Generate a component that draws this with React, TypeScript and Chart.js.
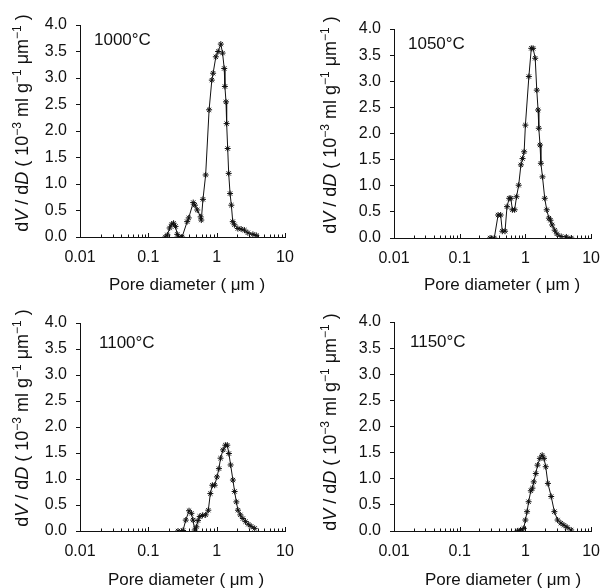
import React, { useEffect, useRef } from "react";
import { Chart, registerables } from "chart.js";

Chart.register(...registerables);

const FONT = "'Liberation Sans', Arial, Helvetica, sans-serif";
const INK = "#111111";

const X_TICKS = [0.01, 0.1, 1, 10];
const X_TICK_LABELS = ["0.01", "0.1", "1", "10"];
const Y_TICKS = [0, 0.5, 1.0, 1.5, 2.0, 2.5, 3.0, 3.5, 4.0];
const X_TITLE = "Pore diameter ( μm )";

const TITLES = ["1000°C", "1050°C", "1100°C", "1150°C"];

// 1000 °C
const DIAM_1000 = [0.177, 0.19, 0.205, 0.22, 0.234, 0.25, 0.265, 0.278, 0.312, 0.37, 0.39, 0.454, 0.48, 0.52, 0.583, 0.596, 0.63, 0.69, 0.775, 0.85, 0.887, 0.973, 1.05, 1.15, 1.22, 1.29, 1.32, 1.37, 1.40, 1.45, 1.50, 1.57, 1.64, 1.72, 1.82, 2.04, 2.28, 2.55, 2.86, 3.39, 3.8];
const DVDD_1000 = [0, 0.04, 0.17, 0.24, 0.26, 0.2, 0.05, 0, 0, 0.29, 0.36, 0.65, 0.6, 0.51, 0.38, 0.32, 0.71, 1.17, 2.4, 2.96, 3.09, 3.40, 3.50, 3.64, 3.47, 3.18, 2.84, 2.55, 2.14, 1.67, 1.2, 0.82, 0.60, 0.29, 0.23, 0.16, 0.15, 0.13, 0.08, 0.05, 0.03];

// 1050 °C
const DIAM_1050 = [0.29, 0.336, 0.384, 0.42, 0.445, 0.49, 0.525, 0.567, 0.6, 0.634, 0.686, 0.733, 0.79, 0.855, 0.905, 0.957, 1.0, 1.13, 1.23, 1.31, 1.41, 1.49, 1.56, 1.60, 1.67, 1.72, 1.82, 1.97, 2.11, 2.28, 2.41, 2.55, 2.79, 3.01, 3.5, 4.2, 5.0];
const DVDD_1050 = [0, 0, 0.44, 0.44, 0.13, 0.13, 0.6, 0.76, 0.76, 0.54, 0.54, 0.79, 1.01, 1.40, 1.52, 1.65, 2.16, 3.09, 3.63, 3.63, 3.44, 2.83, 2.45, 2.10, 1.78, 1.43, 1.17, 0.76, 0.54, 0.38, 0.34, 0.25, 0.15, 0.08, 0.03, 0.02, 0.0];

// 1100 °C
const DIAM_1100 = [0.272, 0.322, 0.353, 0.394, 0.427, 0.451, 0.477, 0.505, 0.533, 0.565, 0.618, 0.69, 0.755, 0.808, 0.865, 0.935, 1.01, 1.08, 1.14, 1.24, 1.34, 1.43, 1.51, 1.60, 1.73, 1.83, 1.94, 2.05, 2.22, 2.42, 2.65, 2.9, 3.2, 3.6];
const DVDD_1100 = [0, 0.01, 0.21, 0.39, 0.34, 0.21, 0.02, 0.08, 0.2, 0.28, 0.30, 0.31, 0.40, 0.72, 0.88, 0.88, 1.04, 1.20, 1.40, 1.56, 1.65, 1.65, 1.49, 1.27, 0.98, 0.76, 0.56, 0.40, 0.31, 0.24, 0.18, 0.13, 0.09, 0.05];

// 1150 °C
const DIAM_1150 = [0.755, 0.844, 0.944, 1.0, 1.06, 1.12, 1.21, 1.28, 1.34, 1.44, 1.53, 1.66, 1.80, 1.92, 2.04, 2.2, 2.47, 2.76, 3.09, 3.47, 3.87, 4.33, 4.97];
const DVDD_1150 = [0, 0.02, 0.05, 0.21, 0.37, 0.56, 0.77, 0.82, 0.94, 1.10, 1.26, 1.39, 1.45, 1.39, 1.23, 0.91, 0.66, 0.37, 0.21, 0.15, 0.11, 0.07, 0.02];

type Layout = {
  left: number;
  top: number;
  width: number;
  height: number;
  area: { l: number; r: number; t: number; b: number };
  title: { x: number; y: number };
  xTitle: { x: number; y: number };
  yTitle: { x: number; y: number };
};

const LAYOUTS: Layout[] = [
  { left: 0, top: 0, width: 305, height: 298, area: { l: 80, r: 285, t: 25, b: 237 }, title: { x: 94, y: 45 }, xTitle: { x: 187, y: 290 }, yTitle: { x: 28, y: 123 } },
  { left: 305, top: 0, width: 306, height: 298, area: { l: 89, r: 297, t: 29, b: 238 }, title: { x: 103, y: 49 }, xTitle: { x: 197, y: 290 }, yTitle: { x: 31, y: 125 } },
  { left: 0, top: 294, width: 305, height: 294, area: { l: 80, r: 285, t: 29, b: 237 }, title: { x: 99, y: 54 }, xTitle: { x: 186, y: 291 }, yTitle: { x: 28, y: 124 } },
  { left: 305, top: 294, width: 306, height: 294, area: { l: 89, r: 293, t: 28, b: 237 }, title: { x: 105, y: 53 }, xTitle: { x: 198, y: 291 }, yTitle: { x: 31, y: 128 } },
];

type Seg = { t: string; italic?: boolean; sup?: boolean };
const Y_TITLE: Seg[] = [
  { t: "d" },
  { t: "V", italic: true },
  { t: " / d" },
  { t: "D", italic: true },
  { t: " ( 10" },
  { t: "−3", sup: true },
  { t: " ml g" },
  { t: "−1", sup: true },
  { t: " μm" },
  { t: "−1", sup: true },
  { t: " )" },
];

function Panel({ xs, ys, title, L }: { xs: number[]; ys: number[]; title: string; L: Layout }) {
  const ref = useRef<HTMLCanvasElement | null>(null);
  useEffect(() => {
    if (!ref.current) return;
    const deco = {
      id: "deco",
      afterDraw(chart: any) {
        const ctx: CanvasRenderingContext2D = chart.ctx;
        const xsc = chart.scales.x;
        const ca = chart.chartArea;
        ctx.save();
        ctx.strokeStyle = INK;
        ctx.lineWidth = 1;
        for (let e = -2; e <= 0; e++) {
          for (let m = 1; m <= 10; m++) {
            const v = m * Math.pow(10, e);
            const px = Math.round(xsc.getPixelForValue(v)) + 0.5;
            const len = m === 1 || m === 10 ? 4 : 2.5;
            ctx.beginPath();
            ctx.moveTo(px, ca.bottom);
            ctx.lineTo(px, ca.bottom - len);
            ctx.stroke();
          }
        }
        ctx.fillStyle = INK;
        ctx.textBaseline = "alphabetic";
        ctx.font = `17px ${FONT}`;
        ctx.textAlign = "left";
        ctx.fillText(title, L.title.x, L.title.y);
        ctx.textAlign = "center";
        ctx.fillText(X_TITLE, L.xTitle.x, L.xTitle.y);

        // rotated y title
        const fontFor = (s: Seg) => `${s.italic ? "italic " : ""}${s.sup ? 12 : 18}px ${FONT}`;
        ctx.textAlign = "left";
        let total = 0;
        for (const s of Y_TITLE) {
          ctx.font = fontFor(s);
          total += ctx.measureText(s.t).width;
        }
        ctx.translate(L.yTitle.x, L.yTitle.y);
        ctx.rotate(-Math.PI / 2);
        let cx = -total / 2;
        for (const s of Y_TITLE) {
          ctx.font = fontFor(s);
          ctx.fillText(s.t, cx, s.sup ? -7 : 0);
          cx += ctx.measureText(s.t).width;
        }
        ctx.restore();
      },
    };
    const chart = new Chart(ref.current, {
      type: "scatter",
      data: {
        datasets: [
          {
            data: xs.map((x, i) => ({ x, y: ys[i] })),
            showLine: true,
            borderColor: INK,
            borderWidth: 1,
            pointStyle: "star",
            pointRadius: 3,
            pointBorderWidth: 1,
            pointBorderColor: INK,
            pointBackgroundColor: INK,
          } as any,
        ],
      },
      options: {
        responsive: false,
        maintainAspectRatio: false,
        animation: false,
        layout: { padding: { left: 0, top: L.area.t, right: L.width - L.area.r, bottom: 0 } },
        plugins: { legend: { display: false }, tooltip: { enabled: false } },
        scales: {
          x: {
            type: "logarithmic",
            min: 0.01,
            max: 10,
            afterBuildTicks: (s: any) => {
              s.ticks = X_TICKS.map((v) => ({ value: v }));
            },
            afterFit: (s: any) => {
              s.height = L.height - L.area.b;
            },
            ticks: {
              autoSkip: false,
              maxRotation: 0,
              padding: 11,
              color: INK,
              font: { size: 16, family: FONT },
              callback: (v: any) => {
                const i = X_TICKS.findIndex((t) => Math.abs(t - Number(v)) < 1e-9);
                return i >= 0 ? X_TICK_LABELS[i] : "";
              },
            },
            grid: { display: false, drawTicks: false },
            border: { display: true, color: INK, width: 1 },
          },
          y: {
            type: "linear",
            min: 0,
            max: 4,
            afterBuildTicks: (s: any) => {
              s.ticks = Y_TICKS.map((v) => ({ value: v }));
            },
            afterFit: (s: any) => {
              s.width = L.area.l;
            },
            ticks: {
              padding: 9,
              color: INK,
              font: { size: 16, family: FONT },
              callback: (v: any) => Number(v).toFixed(1),
            },
            grid: { display: true, drawOnChartArea: false, drawTicks: true, tickLength: 4, color: INK },
            border: { display: true, color: INK, width: 1 },
          },
        },
      } as any,
      plugins: [deco],
    });
    return () => chart.destroy();
  }, []);
  return (
    <canvas
      ref={ref}
      width={L.width}
      height={L.height}
      style={{ position: "absolute", left: L.left, top: L.top, width: L.width, height: L.height }}
    />
  );
}

export default function App() {
  return (
    <div style={{ position: "absolute", left: 0, top: 0, width: 611, height: 588, background: "#fff", overflow: "hidden" }}>
      <Panel xs={DIAM_1000} ys={DVDD_1000} title={TITLES[0]} L={LAYOUTS[0]} />
      <Panel xs={DIAM_1050} ys={DVDD_1050} title={TITLES[1]} L={LAYOUTS[1]} />
      <Panel xs={DIAM_1100} ys={DVDD_1100} title={TITLES[2]} L={LAYOUTS[2]} />
      <Panel xs={DIAM_1150} ys={DVDD_1150} title={TITLES[3]} L={LAYOUTS[3]} />
    </div>
  );
}
